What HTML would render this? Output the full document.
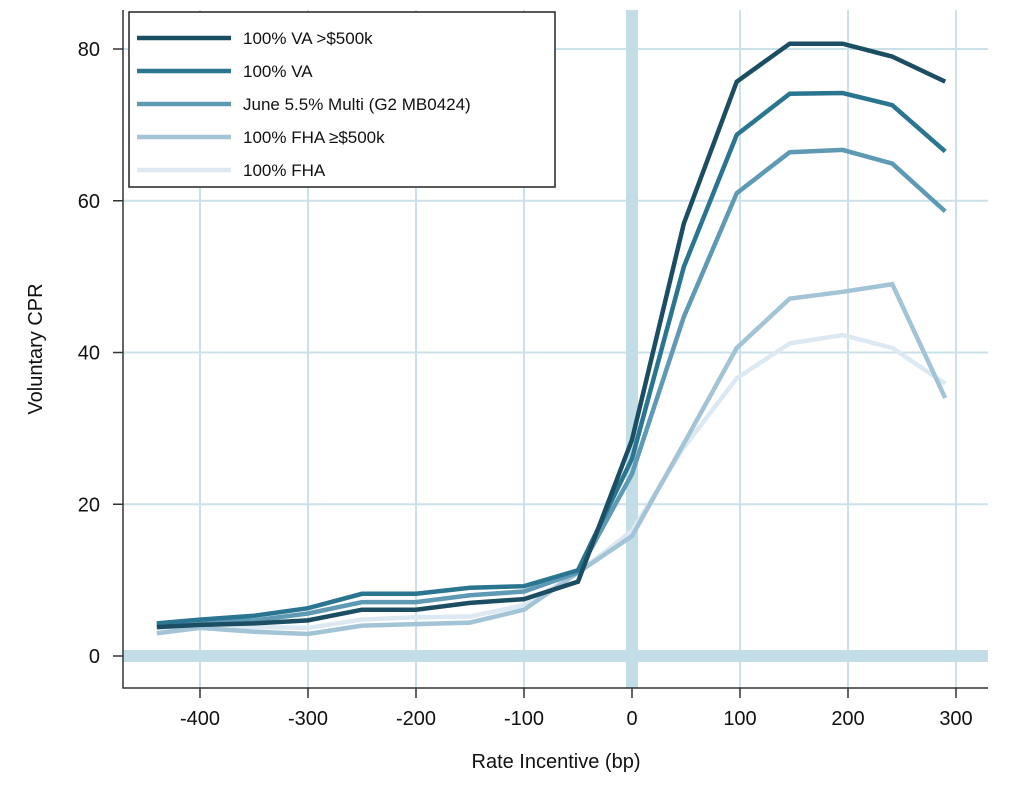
<!DOCTYPE html>
<html><head><meta charset="utf-8"><style>
body{margin:0;background:#fff;}
svg{display:block;font-family:"Liberation Sans",sans-serif;}
</style></head><body>
<svg id="chart" width="1024" height="803"></svg>
<script>
const xs = [-440,-400,-350,-300,-250,-200,-150,-100,-50,0,48,97,146,195,241,290];
const vaHigh = [3.8,4.1,4.3,4.7,6.1,6.1,7.0,7.5,9.8,28.5,57.0,75.7,80.7,80.7,79.0,75.7];
const va = [4.3,4.8,5.3,6.3,8.2,8.2,9.0,9.2,11.3,26.0,51.3,68.7,74.1,74.2,72.6,66.5];
const multi = [4.1,4.5,4.7,5.6,7.1,7.1,8.0,8.5,11.0,24.0,44.7,61.0,66.4,66.7,64.9,58.6];
const fhaHigh = [3.0,3.7,3.2,2.9,4.0,4.2,4.4,6.1,11.0,15.8,28.0,40.6,47.1,48.0,49.0,34.0];
const fha = [3.7,4.0,3.8,3.7,4.8,5.1,5.2,6.7,11.0,16.5,27.5,36.6,41.2,42.3,40.6,35.9];
const seriesNames = ["100% VA >$500k","100% VA","June 5.5% Multi (G2 MB0424)","100% FHA \u2265$500k","100% FHA"];
const xTicks = [-400,-300,-200,-100,0,100,200,300];
const yTicks = [0,20,40,60,80];

const NS="http://www.w3.org/2000/svg";
const svg=document.getElementById('chart');
const X=v=>632+v*1.08;
const Y=v=>656-v*7.5875;
function mk(t,a,p){const e=document.createElementNS(NS,t);for(const k in a)e.setAttribute(k,a[k]);(p||svg).appendChild(e);return e;}
// grid
yTicks.forEach(t=>{if(t===0)return;const l=mk('line',{x1:123,x2:988,y1:Y(t),y2:Y(t),stroke:'#cbe1e9','stroke-width':2});

});
xTicks.forEach(t=>{if(t===0)return;const l=mk('line',{x1:X(t),x2:X(t),y1:10,y2:688,stroke:'#cbe1e9','stroke-width':2});

});
const z1=mk('line',{x1:123,x2:988,y1:Y(0),y2:Y(0),stroke:'#c3dde6','stroke-width':12});


const z2=mk('line',{x1:X(0),x2:X(0),y1:10,y2:688,stroke:'#c3dde6','stroke-width':12});


// series
const colors=['#1b4d63','#2a7691','#5f9ab5','#a3c4d6','#dde9f2'];
const data=[vaHigh,va,multi,fhaHigh,fha];
const keys=['va-high','va','multi','fha-high','fha'];
for(let i=data.length-1;i>=0;i--){
 const pts=xs.map((x,j)=>X(x)+','+Y(data[i][j])).join(' ');
 const p=mk('polyline',{points:pts,fill:'none',stroke:colors[i],'stroke-width':4.5,'stroke-linejoin':'miter'});
 
 
}
// axes
const ax=mk('path',{d:'M123,10V688H988',fill:'none',stroke:'#333','stroke-width':1.5});


yTicks.forEach(t=>{mk('line',{x1:113,x2:123,y1:Y(t),y2:Y(t),stroke:'#333','stroke-width':1.5});
 const tx=mk('text',{x:100,y:Y(t)+7,'text-anchor':'end','font-size':20,fill:'#111'});tx.textContent=t;
 
 });
xTicks.forEach(t=>{mk('line',{x1:X(t),x2:X(t),y1:688,y2:698,stroke:'#333','stroke-width':1.5});
 const tx=mk('text',{x:X(t),y:725,'text-anchor':'middle','font-size':20,fill:'#111'});tx.textContent=t;
 
 });
const xt=mk('text',{x:556,y:768,'text-anchor':'middle','font-size':20,fill:'#111'});xt.textContent='Rate Incentive (bp)';


const yt=mk('text',{x:0,y:0,'text-anchor':'middle','font-size':20,fill:'#111',transform:'translate(42,349) rotate(-90)'});yt.textContent='Voluntary CPR';


// legend
const lg=mk('g',{});


mk('rect',{x:129,y:12,width:426,height:175,fill:'#fff',stroke:'#222','stroke-width':1.5},lg);
seriesNames.forEach((n,i)=>{const y=38+i*33;
 const g=mk('g',{},lg);
 
 
 mk('line',{x1:137,x2:231,y1:y,y2:y,stroke:colors[i],'stroke-width':4.5},g);
 const t=mk('text',{x:243,y:y+6,'font-size':17,fill:'#111'},g);t.textContent=n;});
</script>
</body></html>
